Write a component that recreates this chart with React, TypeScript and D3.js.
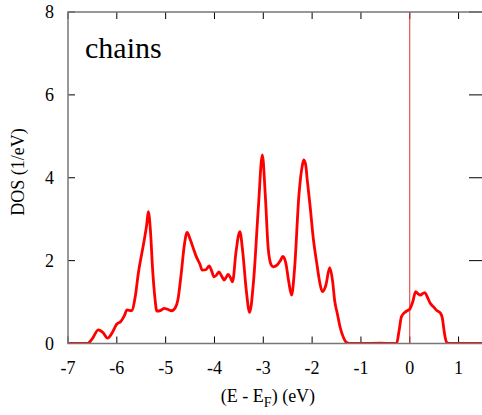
import React from 'react';
import * as d3 from 'd3';

// energy (eV, relative to E_F) and DOS (1/eV)
const energies = [
  -7.0, -6.75, -6.6, -6.5, -6.38, -6.28, -6.19, -6.1, -6.0, -5.92, -5.85, -5.79, -5.7,
  -5.62, -5.56, -5.45, -5.39, -5.355, -5.31, -5.27, -5.22, -5.18, -5.1, -5.03, -4.95, -4.88,
  -4.8, -4.75, -4.68, -4.62, -4.56, -4.5, -4.44, -4.37, -4.3, -4.25, -4.18, -4.11, -4.06,
  -4.01, -3.96, -3.91, -3.85, -3.8, -3.76, -3.72, -3.67, -3.63, -3.56, -3.48, -3.42,
  -3.35, -3.28, -3.2, -3.1, -3.02, -2.96, -2.9, -2.84, -2.8, -2.72, -2.65, -2.6, -2.54,
  -2.48, -2.42, -2.36, -2.27, -2.2, -2.17, -2.13, -2.1, -2.04, -1.98, -1.9, -1.84, -1.79,
  -1.72, -1.64, -1.58, -1.54, -1.48, -1.43, -1.36, -1.31, -1.23, -1.0, -0.6, -0.35, -0.27,
  -0.22, -0.17, -0.08, 0.0, 0.06, 0.12, 0.17, 0.22, 0.27, 0.31, 0.36, 0.42, 0.49, 0.56,
  0.63, 0.67, 0.7, 0.73, 0.76, 0.8, 1.0, 1.5,
];
const dos = [
  0.0, 0.0, 0.0, 0.12, 0.33, 0.26, 0.13, 0.25, 0.47, 0.53, 0.66, 0.81, 0.79,
  1.15, 1.69, 2.42, 2.85, 3.18, 2.7, 1.85, 1.1, 0.78, 0.8, 0.85, 0.82, 0.79,
  0.87, 1.05, 1.7, 2.35, 2.68, 2.52, 2.32, 2.09, 1.92, 1.77, 1.78, 1.87, 1.76,
  1.61, 1.65, 1.73, 1.62, 1.53, 1.6, 1.67, 1.58, 1.49, 2.2, 2.7, 2.2,
  1.3, 0.75, 1.5, 3.3, 4.55, 3.6, 2.3, 1.9, 1.85, 1.89, 2.0, 2.1, 1.95,
  1.5, 1.17, 1.8, 3.58, 4.3, 4.43, 4.3, 3.95, 3.3, 2.58, 1.9, 1.45, 1.25,
  1.4, 1.83, 1.5, 1.05, 0.7, 0.41, 0.15, 0.04, 0.0, 0.0, 0.01, 0.0, 0.0,
  0.3, 0.65, 0.77, 0.83, 1.0, 1.25, 1.2, 1.17, 1.21, 1.23, 1.12, 0.97, 0.88, 0.79,
  0.73, 0.6, 0.33, 0.12, 0.02, 0.0, 0.0, 0.0,
];
const xTicks = [-7, -6, -5, -4, -3, -2, -1, 0, 1];
const yTicks = [0, 2, 4, 6, 8];

const W = 482;
const H = 415;
const margin = { left: 68, top: 12, right: -1, bottom: 71.5 };
const serif = { fontFamily: "'Liberation Serif', 'DejaVu Serif', serif" };

export default function App() {
  const x = d3.scaleLinear().domain([-7, 1.5]).range([margin.left, W - margin.right]);
  const y = d3.scaleLinear().domain([0, 8]).range([H - margin.bottom, margin.top]);
  const pts: [number, number][] = energies.map((e, i) => [e, dos[i]]);
  const line = d3
    .line<[number, number]>()
    .x(d => x(d[0]))
    .y(d => y(d[1]))
    .curve(d3.curveMonotoneX);

  const x0 = x.range()[0];
  const x1 = x.range()[1];
  const yb = y.range()[0];
  const yt = y.range()[1];

  return (
    <svg width={W} height={H} style={{ position: 'absolute', left: 0, top: 0, background: '#fff', ...serif }}>
      <defs>
        <clipPath id="plot">
          <rect x={x0} y={yt} width={x1 - x0} height={yb - yt} />
        </clipPath>
      </defs>
      {/* ticks, inner on all four sides */}
      {xTicks.map(t => (
        <g key={'x' + t}>
          <line x1={x(t)} x2={x(t)} y1={yb} y2={yb - 7} stroke="#000" strokeWidth={1} />
          <line x1={x(t)} x2={x(t)} y1={yt} y2={yt + 7} stroke="#000" strokeWidth={1} />
          <text x={x(t)} y={yb + 30} textAnchor="middle" style={serif} fontSize={18}>
            {t}
          </text>
        </g>
      ))}
      {yTicks.map(t => (
        <g key={'y' + t}>
          <line x1={x0} x2={x0 + 7} y1={y(t)} y2={y(t)} stroke="#000" strokeWidth={1} />
          <line x1={x1} x2={x1 - 14} y1={y(t)} y2={y(t)} stroke="#000" strokeWidth={1} />
          <text x={54} y={y(t) + 6} textAnchor="end" style={serif} fontSize={18}>
            {t}
          </text>
        </g>
      ))}
      {/* Fermi level */}
      <line x1={x(0)} x2={x(0)} y1={yt} y2={yb} stroke="#e03030" strokeWidth={1} />
      <path d={line(pts) || ''} fill="none" stroke="#ff0000" strokeWidth={2.8} clipPath="url(#plot)" />
      <rect x={x0} y={yt} width={x1 - x0} height={yb - yt} fill="none" stroke="#777" strokeWidth={1.5} />
      <text x={85} y={58} style={serif} fontSize={30}>chains</text>
      <text x={268} y={402} textAnchor="middle" style={serif} fontSize={18}>
        (E - E<tspan dy={5} fontSize={14}>F</tspan><tspan dy={-5}>) (eV)</tspan>
      </text>
      <text transform="translate(24,172) rotate(-90)" textAnchor="middle" style={serif} fontSize={18}>
        DOS (1/eV)
      </text>
    </svg>
  );
}
